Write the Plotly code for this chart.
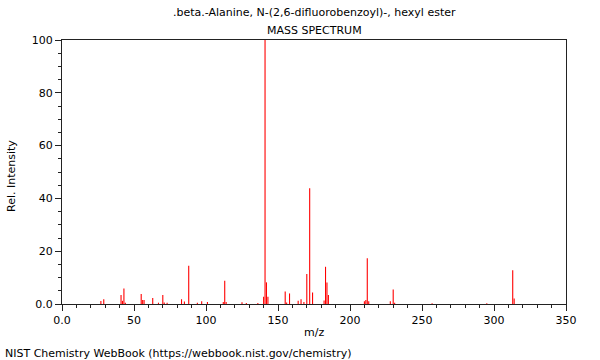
import plotly.graph_objects as go

# m/z values and relative intensities
mz = [27, 29, 41, 42, 43, 44, 55, 56, 57, 63, 67, 70, 71, 73, 83, 85, 88, 94, 97,
      101, 112, 113, 114, 125, 128, 136, 140, 141, 142, 143, 155, 156, 158, 164,
      166, 168, 170, 172, 174, 182, 183, 184, 185, 210, 211, 212, 213, 228, 230,
      231, 257, 295, 313, 314]
intensity = [1.1, 1.8, 3.4, 1.2, 5.9, 0.5, 3.8, 1.5, 1.5, 2.3, 0.5, 3.4, 0.6, 0.5,
             1.8, 0.9, 14.5, 0.5, 1.0, 0.8, 0.8, 8.8, 0.8, 0.7, 0.4, 0.4, 2.7, 100,
             8.2, 2.7, 4.7, 0.6, 4.0, 1.2, 1.8, 0.8, 11.4, 43.8, 4.4, 1.3, 14.1, 8.1,
             3.4, 1.0, 1.5, 17.3, 1.0, 1.0, 5.5, 0.5, 0.3, 0.3, 12.8, 2.1]

x_tickvals = [0, 50, 100, 150, 200, 250, 300, 350]
x_ticktext = ["0.0", "50", "100", "150", "200", "250", "300", "350"]
y_tickvals = [0, 20, 40, 60, 80, 100]
y_ticktext = ["0.0", "20", "40", "60", "80", "100"]

FONT = "DejaVu Sans, sans-serif"
AX = "#222222"

# stick spectrum: one vertical segment per peak, separated by gaps
stick_x, stick_y = [], []
for m, h in zip(mz, intensity):
    stick_x += [m, m, None]
    stick_y += [0, h, None]

fig = go.Figure()
fig.add_trace(go.Scatter(
    x=stick_x, y=stick_y, mode="lines",
    line=dict(color="#ff0000", width=1.1),
    hoverinfo="skip", connectgaps=False,
))

fig.update_layout(
    width=600, height=360,
    margin=dict(l=62, r=34, t=40, b=56),
    paper_bgcolor="white", plot_bgcolor="white",
    showlegend=False, hovermode=False,
    font=dict(family=FONT, size=11, color="#000000"),
    xaxis=dict(
        range=[0, 350], tickvals=x_tickvals, ticktext=x_ticktext,
        showline=True, linecolor=AX, linewidth=1, mirror=True,
        ticks="outside", ticklen=6, tickcolor=AX, tickwidth=1,
        minor=dict(dtick=10, ticks="outside", ticklen=3, tickcolor=AX, tickwidth=1, showgrid=False),
        showgrid=False, zeroline=False,
        tickfont=dict(family=FONT, size=11, color="#000000"),
    ),
    yaxis=dict(
        range=[0, 100], tickvals=y_tickvals, ticktext=y_ticktext,
        showline=True, linecolor=AX, linewidth=1, mirror=True,
        ticks="outside", ticklen=6, tickcolor=AX, tickwidth=1,
        minor=dict(dtick=5, ticks="outside", ticklen=3, tickcolor=AX, tickwidth=1, showgrid=False),
        showgrid=False, zeroline=False,
        tickfont=dict(family=FONT, size=11, color="#000000"),
    ),
    annotations=[
        dict(text=".beta.-Alanine, N-(2,6-difluorobenzoyl)-, hexyl ester",
             xref="paper", yref="paper", x=0.5, y=1 + 27 / 264,
             xanchor="center", yanchor="middle", showarrow=False,
             font=dict(family=FONT, size=11)),
        dict(text="MASS SPECTRUM",
             xref="paper", yref="paper", x=0.5, y=1 + 10 / 264,
             xanchor="center", yanchor="middle", showarrow=False,
             font=dict(family=FONT, size=11)),
        dict(text="m/z",
             xref="paper", yref="paper", x=0.5, y=-28 / 264,
             xanchor="center", yanchor="middle", showarrow=False,
             font=dict(family=FONT, size=11)),
        dict(text="Rel. Intensity",
             xref="paper", yref="paper", x=-51 / 504, y=0.5 - 4 / 264,
             xanchor="center", yanchor="middle", showarrow=False, textangle=-90,
             font=dict(family=FONT, size=11)),
        dict(text="NIST Chemistry WebBook (https://webbook.nist.gov/chemistry)",
             xref="paper", yref="paper", x=-59 / 504, y=-49 / 264,
             xanchor="left", yanchor="middle", showarrow=False,
             font=dict(family=FONT, size=11)),
    ],
)

fig.write_html("out.html", config={"displayModeBar": False, "staticPlot": True},
               post_script="document.body.style.margin='0';")
